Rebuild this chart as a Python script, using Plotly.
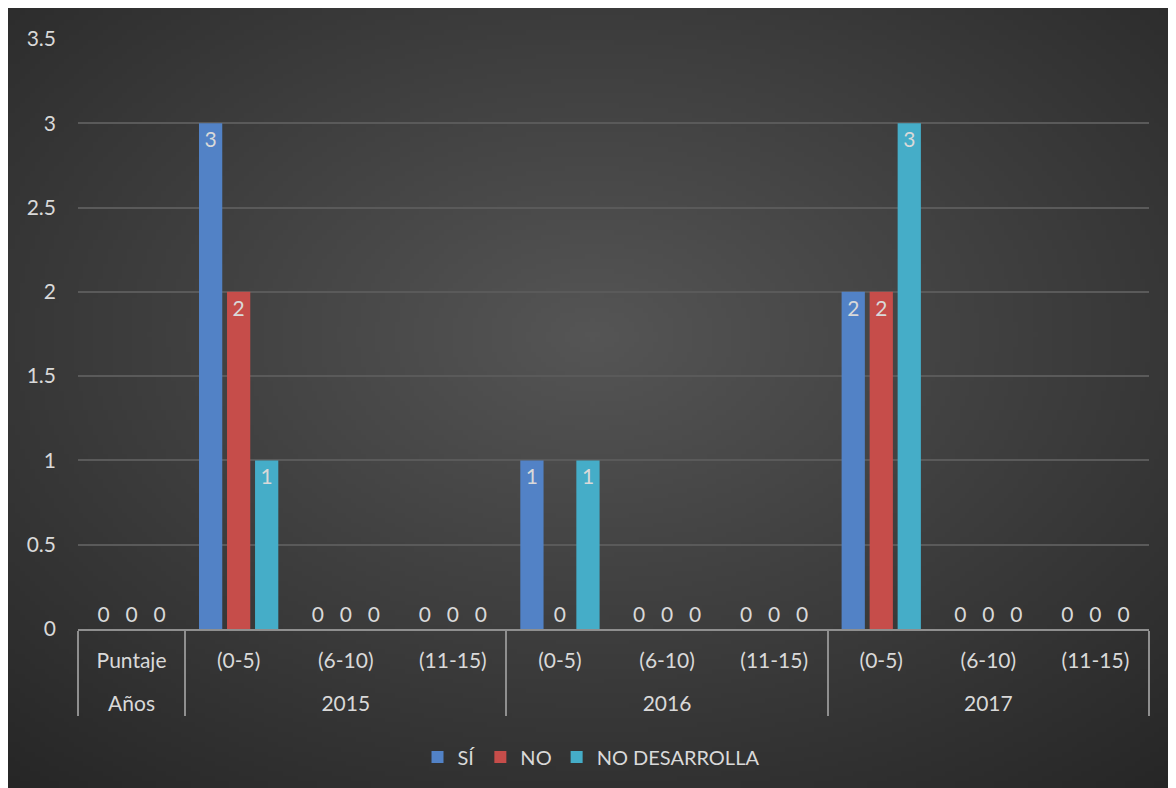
import base64
import struct
import zlib
import plotly.graph_objects as go

# ---------------- data ----------------
years = ["Años", "2015", "2015", "2015", "2016", "2016", "2016", "2017", "2017", "2017"]
ranges = ["Puntaje", "(0-5)", "(6-10)", "(11-15)", "(0-5)", "(6-10)", "(11-15)",
          "(0-5)", "(6-10)", "(11-15)"]
series_names = ["SÍ", "NO", "NO DESARROLLA"]
si_values = [0, 3, 0, 0, 1, 0, 0, 2, 0, 0]
no_values = [0, 2, 0, 0, 0, 0, 0, 2, 0, 0]
nd_values = [0, 1, 0, 0, 1, 0, 0, 3, 0, 0]
y_ticks = [0, 0.5, 1, 1.5, 2, 2.5, 3, 3.5]

colors = ["#5282c6", "#c64d4a", "#45adc8"]


# ---------------- radial gradient background (PNG) ----------------
def gradient_png(w=240, h=160, cx=0.5, cy=0.42, c0=0x55, c1=0x26):
    rows = []
    maxd = ((max(cx, 1 - cx)) ** 2 + (max(cy, 1 - cy)) ** 2) ** 0.5
    for j in range(h):
        row = bytearray([0])
        for i in range(w):
            dx = i / (w - 1) - cx
            dy = j / (h - 1) - cy
            t = min(1.0, ((dx * dx + dy * dy) ** 0.5) / maxd)
            v = int(round(c0 + (c1 - c0) * t))
            row += bytes([v, v, v])
        rows.append(bytes(row))
    raw = b"".join(rows)

    def chunk(tag, data):
        c = struct.pack(">I", len(data)) + tag + data
        return c + struct.pack(">I", zlib.crc32(tag + data) & 0xFFFFFFFF)

    png = b"\x89PNG\r\n\x1a\n"
    png += chunk(b"IHDR", struct.pack(">IIBBBBB", w, h, 8, 2, 0, 0, 0))
    png += chunk(b"IDAT", zlib.compress(raw, 9))
    png += chunk(b"IEND", b"")
    return "data:image/png;base64," + base64.b64encode(png).decode()


W, H = 1168, 780
L, R, T, B = 70, 27, 31, 159
PW, PH = W - L - R, H - T - B

font_family = "Lato, 'Open Sans', sans-serif"
txt_color = "#d9d9d9"
fs = 21

# outer labels get a leading blank line so that the year row sits lower, as in the reference
outer_labels = ["<br>" + y for y in years]

fig = go.Figure()
for name, vals, col in zip(series_names, [si_values, no_values, nd_values], colors):
    fig.add_trace(go.Bar(
        name=name,
        x=[outer_labels, ranges],
        y=vals,
        marker=dict(color=col, line=dict(width=0)),
        text=[str(v) for v in vals],
        textposition=["inside" if v > 0 else "outside" for v in vals],
        insidetextanchor="end",
        textangle=0,
        constraintext="none",
        textfont=dict(family=font_family, size=fs, color=txt_color),
        outsidetextfont=dict(family=font_family, size=fs, color=txt_color),
        insidetextfont=dict(family=font_family, size=fs, color=txt_color),
        cliponaxis=False,
    ))

fig.update_layout(
    width=W, height=H,
    margin=dict(l=L, r=R, t=T, b=B),
    paper_bgcolor="#333333",
    plot_bgcolor="rgba(0,0,0,0)",
    barmode="group",
    bargap=0.215,
    bargroupgap=0.17,
    font=dict(family=font_family, size=fs, color=txt_color),
    showlegend=True,
    legend=dict(orientation="h", x=0.479, xanchor="center", y=-0.217, yanchor="middle",
                font=dict(family=font_family, size=20, color=txt_color),
                bgcolor="rgba(0,0,0,0)", itemclick=False),
    images=[dict(
        source=gradient_png(),
        xref="paper", yref="paper",
        x=-L / PW, y=1 + T / PH,
        sizex=W / PW, sizey=H / PH,
        xanchor="left", yanchor="top",
        sizing="stretch", layer="below",
    )],
)

fig.update_xaxes(
    type="multicategory",
    showline=True, linecolor="#8f8f8f", linewidth=2,
    showdividers=True, dividercolor="#8f8f8f", dividerwidth=2,
    showgrid=False, ticks="",
    ticklabelstandoff=12,
    tickfont=dict(family=font_family, size=fs, color=txt_color),
)
fig.update_yaxes(
    range=[0, 3.5],
    tickvals=y_ticks,
    ticktext=[f"{v:g}" for v in y_ticks],
    showgrid=True, gridcolor="#5a5a5a", gridwidth=1.5,
    zeroline=False, showline=False, ticks="",
    ticklabelstandoff=21,
    tickfont=dict(family=font_family, size=fs, color=txt_color),
)

fig.write_html("out.html")
